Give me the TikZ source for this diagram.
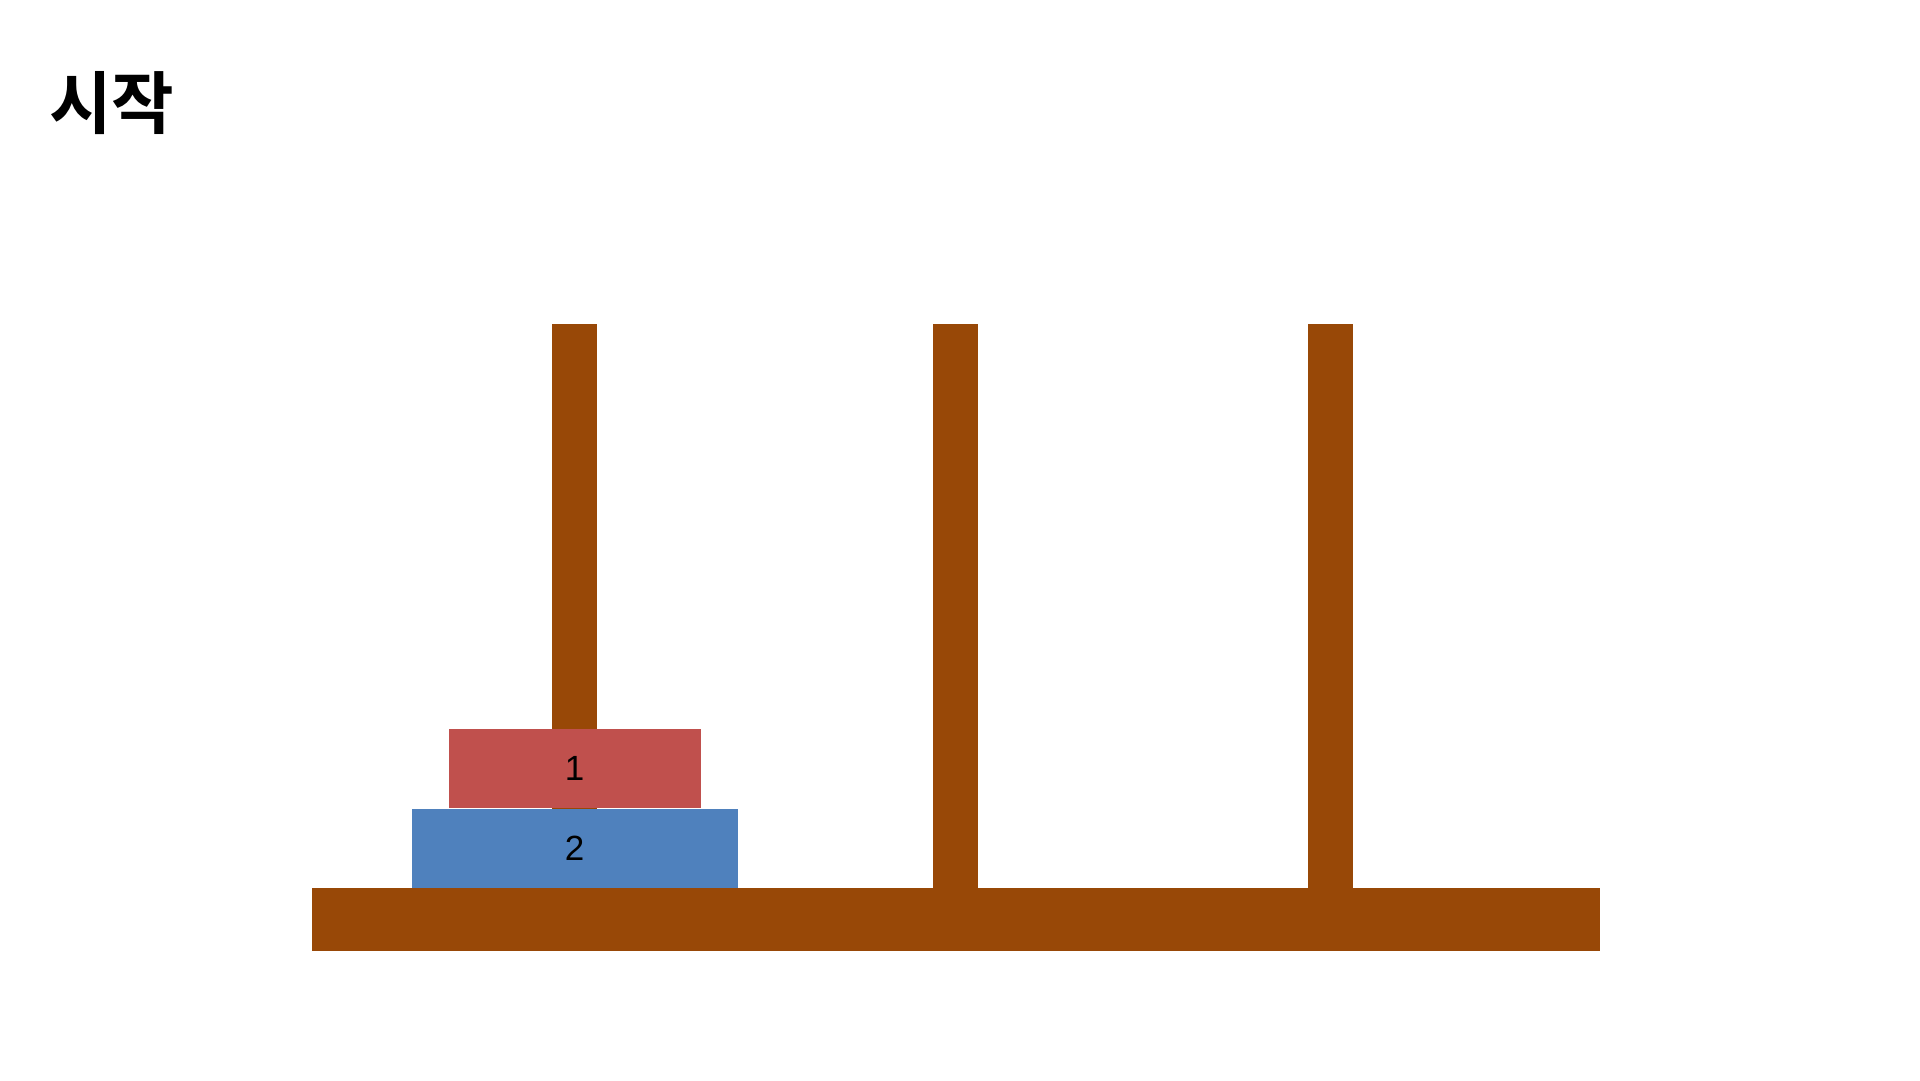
\documentclass[tikz,border=0pt]{standalone}
\usepackage{fontspec}
\setmainfont{Liberation Sans}
\newfontfamily\kofont{Noto Sans CJK KR}[BoldFont={* Bold}]
\definecolor{wood}{HTML}{984807}
\definecolor{diskred}{HTML}{C0504D}
\definecolor{diskblue}{HTML}{4F81BD}
\tikzset{
 disk/.style={inner sep=0pt,minimum height=79pt,font=\fontsize{35}{40}\selectfont},
}

\begin{document}
\begin{tikzpicture}[x=1pt,y=-1pt]
\useasboundingbox (0,0) rectangle (1920,1080);
\node[anchor=north west,inner sep=0pt,font=\kofont\bfseries\fontsize{68}{74}\selectfont] (title) at (49,71) {시작};
\foreach \p/\x in {a/552,b/933,c/1308} {
 \fill[wood] (\x,324) rectangle ++(45,565);
 \coordinate (peg\p) at ({\x+22.5},888);
}
\fill[wood] (312,888) rectangle (1600,951);
\node[disk,fill=diskblue,minimum width=326pt,anchor=south] (d2) at (pega) {2};
\node[disk,fill=diskred,minimum width=252pt,anchor=south] (d1) at (d2.north) {1};
\end{tikzpicture}
\end{document}
